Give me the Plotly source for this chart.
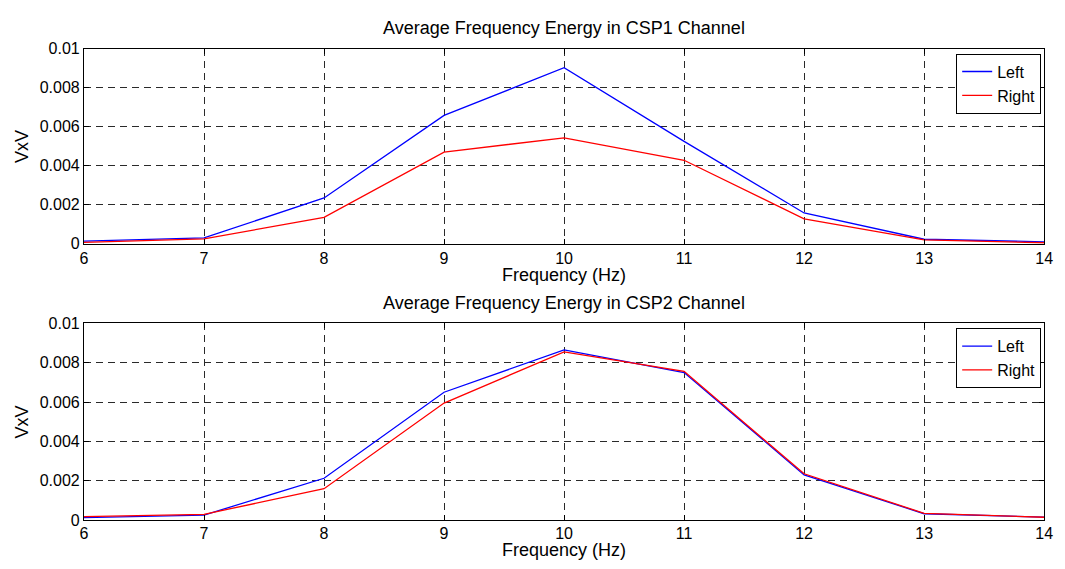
import plotly.graph_objects as go

freq = [6, 7, 8, 9, 10, 11, 12, 13, 14]

csp1_left = [0.00013, 0.0003, 0.00235, 0.00658, 0.00903, 0.00525, 0.00158, 0.00023, 0.0001]
csp1_right = [0.00007, 0.00025, 0.00135, 0.0047, 0.00543, 0.00428, 0.00128, 0.0002, 0.00005]

csp2_left = [0.00013, 0.00026, 0.00213, 0.0065, 0.00865, 0.0075, 0.0023, 0.00033, 0.00016]
csp2_right = [0.00018, 0.0003, 0.0016, 0.00595, 0.00855, 0.00756, 0.00236, 0.00035, 0.00015]

titles = ["Average Frequency Energy in CSP1 Channel", "Average Frequency Energy in CSP2 Channel"]
x_label = "Frequency (Hz)"
y_label = "VxV"
y_ticks = [0, 0.002, 0.004, 0.006, 0.008, 0.01]
y_ticktext = ["0", "0.002", "0.004", "0.006", "0.008", "0.01"]

W, H = 1065, 569
FONT = "Liberation Sans, Arial, Helvetica, sans-serif"
FS_TICK = 16
FS_LABEL = 18


def px(x):
    return x / W


def py(y):
    return 1 - y / H


# plot areas in pixels (left, right, top, bottom)
areas = [(81, 1053, 42, 243), (81, 1053, 325, 528)]
xlabel_offset = [32, 31]
xtick_standoff = [0, -2]

fig = go.Figure()

series = [(csp1_left, csp1_right), (csp2_left, csp2_right)]
for i, (left, right) in enumerate(series):
    xa = "x" if i == 0 else "x2"
    ya = "y" if i == 0 else "y2"
    lg = "legend" if i == 0 else "legend2"
    fig.add_trace(go.Scatter(x=freq, y=left, mode="lines", name="Left",
                             line=dict(color="#0000ff", width=1.3),
                             xaxis=xa, yaxis=ya, legend=lg))
    fig.add_trace(go.Scatter(x=freq, y=right, mode="lines", name="Right",
                             line=dict(color="#ff0000", width=1.3),
                             xaxis=xa, yaxis=ya, legend=lg))

axis_common = dict(
    showline=True, linecolor="black", linewidth=1.2, mirror="ticks",
    ticks="inside", ticklen=5, tickcolor="black", tickwidth=1,
    showgrid=True, gridcolor="#2a2a2a", gridwidth=1, griddash="7px,5px",
    zeroline=False, tickfont=dict(family=FONT, size=FS_TICK, color="black"),
)

layout = dict(
    width=W, height=H, margin=dict(l=0, r=0, t=0, b=0),
    paper_bgcolor="white", plot_bgcolor="white",
    font=dict(family=FONT, size=FS_TICK, color="black"),
    annotations=[],
)

for i, (l, r, t, b) in enumerate(areas):
    sx = "" if i == 0 else "2"
    layout["xaxis" + sx] = dict(
        domain=[px(l), px(r)], anchor="y" + sx, range=[6, 14],
        tickvals=freq, ticklabelstandoff=xtick_standoff[i], **axis_common)
    layout["yaxis" + sx] = dict(
        domain=[py(b), py(t)], anchor="x" + sx, range=[0, 0.01],
        tickvals=y_ticks, ticktext=y_ticktext, ticklabelstandoff=0, **axis_common)
    lgkey = "legend" if i == 0 else "legend2"
    layout[lgkey] = dict(
        x=px(r - 3), y=py(t + 5), xanchor="right", yanchor="top",
        xref="paper", yref="paper",
        bgcolor="white", bordercolor="black", borderwidth=1,
        font=dict(family=FONT, size=FS_TICK, color="black"),
        itemwidth=30, tracegroupgap=0,
    )
    cx = (l + r) / 2
    layout["annotations"] += [
        dict(text=titles[i], x=px(cx), y=py(t - 21), xref="paper", yref="paper",
             showarrow=False, xanchor="center", yanchor="middle",
             font=dict(family=FONT, size=FS_LABEL, color="black")),
        dict(text=x_label, x=px(cx), y=py(b + xlabel_offset[i]), xref="paper", yref="paper",
             showarrow=False, xanchor="center", yanchor="middle",
             font=dict(family=FONT, size=FS_LABEL, color="black")),
        dict(text=y_label, x=px(18), y=py((t + b) / 2), xref="paper", yref="paper",
             showarrow=False, xanchor="center", yanchor="middle", textangle=-90,
             font=dict(family=FONT, size=FS_LABEL, color="black")),
    ]

fig.update_layout(**layout)
fig.write_html("out.html")
